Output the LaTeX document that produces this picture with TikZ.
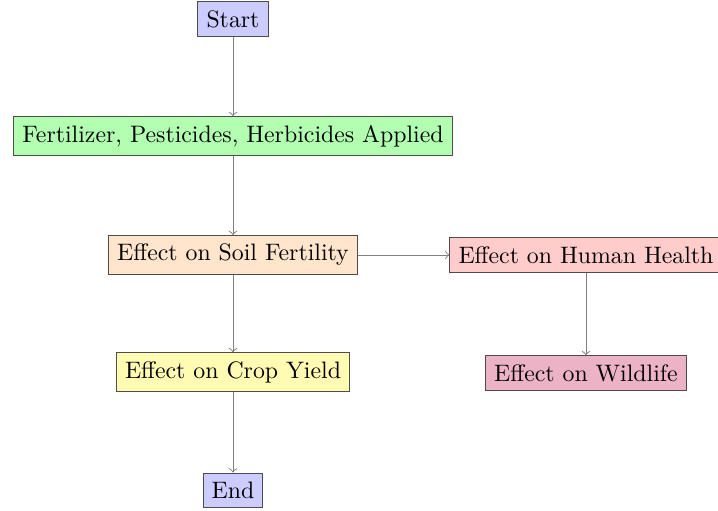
\documentclass[tikz,border=0pt]{standalone}
\usetikzlibrary{positioning}
\begin{document}
\begin{tikzpicture}[x=0.42pt,y=-0.42pt,
  box/.style={draw=black!70, inner sep=3.6pt},
  conn/.style={->, draw=gray, thin}]
\clip (0,0) rectangle (718,510);
\node[box, fill=blue!20] (start) at (233,19) {Start};
\node[box, fill=green!30] (fert) at (233,136) {Fertilizer, Pesticides, Herbicides Applied};
\node[box, fill=orange!20] (soil) at (233,255) {Effect on Soil Fertility};
\node[box, fill=red!20] (human) at (586,255) {Effect on Human Health};
\node[box, fill=yellow!30] (crop) at (233,372) {Effect on Crop Yield};
\node[box, fill=purple!30] (wild) at (586,373) {Effect on Wildlife};
\node[box, fill=blue!20] (end) at (233,490) {End};
\draw[conn] (start) -- (fert);
\draw[conn] (fert) -- (soil);
\draw[conn] (soil) -- (human);
\draw[conn] (soil) -- (crop);
\draw[conn] (human) -- (wild);
\draw[conn] (crop) -- (end);
\end{tikzpicture}
\end{document}
